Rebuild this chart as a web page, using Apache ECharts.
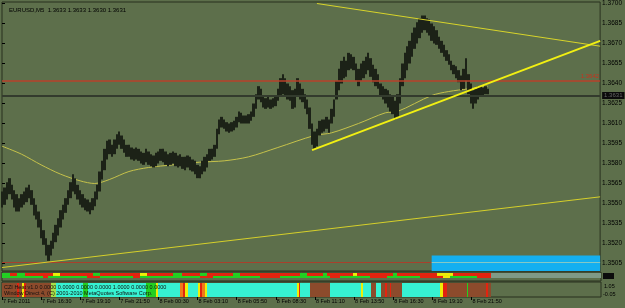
<!DOCTYPE html>
<html><head><meta charset="utf-8">
<script src="https://cdn.jsdelivr.net/npm/echarts@6/dist/echarts.min.js"></script>
<style>html,body{margin:0;padding:0;background:#5d6f4b;}#c{width:625px;height:308px;}</style>
</head><body><div id="c"></div>
<script>
// ---------- data ----------
const timeLabels = ['7 Feb 2011','7 Feb 16:30','7 Feb 19:10','7 Feb 21:50','8 Feb 00:30','8 Feb 03:10','8 Feb 05:50','8 Feb 08:30','8 Feb 11:10','8 Feb 13:50','8 Feb 16:30','8 Feb 19:10','8 Feb 21:50'];
const timeTickIdx = [0,16,32,48,64,80,96,112,128,144,160,176,192];
const priceTicks = [1.3505,1.3520,1.3535,1.3550,1.3565,1.3580,1.3595,1.3610,1.3625,1.3640,1.3655,1.3670,1.3685,1.3700];
const slotCount = 245; // 10-minute slots across the visible window

const barHigh = [1.3559,1.3562,1.3566,1.3569,1.3564,1.3560,1.3557,1.3554,1.3557,1.3559,
1.3562,1.3564,1.3560,1.3554,1.3549,1.3544,1.3538,1.3530,1.3524,1.3519,
1.3522,1.3528,1.3534,1.3539,1.3545,1.3549,1.3554,1.3560,1.3566,1.3572,
1.3569,1.3564,1.3560,1.3557,1.3554,1.3553,1.3551,1.3554,1.3559,1.3564,
1.3574,1.3582,1.3591,1.3597,1.3598,1.3594,1.3598,1.3602,1.3604,1.3601,
1.3598,1.3594,1.3594,1.3592,1.3591,1.3592,1.3591,1.3589,1.3588,1.3591,
1.3589,1.3587,1.3586,1.3588,1.3589,1.3591,1.3591,1.3589,1.3587,1.3588,
1.3589,1.3588,1.3586,1.3587,1.3585,1.3585,1.3586,1.3585,1.3583,1.3582,
1.3579,1.3578,1.3582,1.3585,1.3587,1.3591,1.3591,1.3594,1.3606,1.3613,
1.3615,1.3613,1.3611,1.3610,1.3611,1.3612,1.3615,1.3619,1.3618,1.3616,
1.3616,1.3617,1.3619,1.3625,1.3632,1.3638,1.3636,1.3631,1.3629,1.3630,
1.3628,1.3629,1.3631,1.3636,1.3644,1.3647,1.3644,1.3640,1.3638,1.3635,
1.3636,1.3644,1.3640,1.3636,1.3632,1.3628,1.3622,1.3610,1.3604,1.3606,
1.3612,1.3613,1.3613,1.3615,1.3613,1.3621,1.3628,1.3642,1.3651,1.3657,
1.3660,1.3657,1.3663,1.3662,1.3660,1.3655,1.3651,1.3655,1.3657,1.3660,
1.3663,1.3659,1.3654,1.3651,1.3647,1.3640,1.3638,1.3636,1.3635,1.3632,
1.3630,1.3627,1.3632,1.3644,1.3655,1.3663,1.3668,1.3672,1.3678,1.3682,
1.3686,1.3689,1.3691,1.3691,1.3689,1.3688,1.3685,1.3683,1.3680,1.3675,
1.3672,1.3669,1.3665,1.3662,1.3657,1.3654,1.3653,1.3650,1.3646,1.3651,
1.3659,1.3647,1.3640,1.3635,1.3636,1.3638,1.3638,1.3637,1.3638,1.3636];

const barLow = [1.3547,1.3549,1.3553,1.3557,1.3553,1.3547,1.3544,1.3544,1.3547,1.3549,
1.3551,1.3554,1.3549,1.3541,1.3538,1.3532,1.3524,1.3519,1.3511,1.3507,
1.3511,1.3516,1.3521,1.3526,1.3532,1.3538,1.3543,1.3549,1.3554,1.3559,
1.3557,1.3553,1.3549,1.3547,1.3545,1.3544,1.3542,1.3545,1.3548,1.3553,
1.3559,1.3568,1.3575,1.3583,1.3587,1.3585,1.3587,1.3591,1.3594,1.3591,
1.3588,1.3585,1.3585,1.3583,1.3582,1.3583,1.3582,1.3580,1.3579,1.3581,
1.3579,1.3578,1.3577,1.3578,1.3580,1.3582,1.3581,1.3579,1.3578,1.3579,
1.3580,1.3578,1.3577,1.3578,1.3576,1.3575,1.3577,1.3575,1.3574,1.3572,
1.3569,1.3569,1.3572,1.3574,1.3577,1.3582,1.3583,1.3585,1.3591,1.3602,
1.3607,1.3606,1.3604,1.3603,1.3604,1.3605,1.3607,1.3611,1.3610,1.3610,
1.3610,1.3610,1.3612,1.3615,1.3621,1.3628,1.3626,1.3622,1.3621,1.3622,
1.3621,1.3622,1.3623,1.3627,1.3630,1.3632,1.3630,1.3628,1.3627,1.3621,
1.3622,1.3630,1.3628,1.3626,1.3621,1.3617,1.3606,1.3594,1.3591,1.3593,
1.3601,1.3603,1.3604,1.3606,1.3603,1.3610,1.3615,1.3628,1.3635,1.3640,
1.3644,1.3645,1.3650,1.3651,1.3650,1.3642,1.3638,1.3642,1.3644,1.3647,
1.3650,1.3645,1.3641,1.3638,1.3636,1.3630,1.3628,1.3625,1.3622,1.3619,
1.3617,1.3613,1.3615,1.3625,1.3638,1.3644,1.3650,1.3655,1.3660,1.3666,
1.3670,1.3674,1.3678,1.3680,1.3678,1.3676,1.3672,1.3670,1.3669,1.3666,
1.3663,1.3660,1.3657,1.3654,1.3650,1.3647,1.3644,1.3641,1.3635,1.3636,
1.3642,1.3632,1.3625,1.3621,1.3625,1.3628,1.3630,1.3631,1.3632,1.3632];

const maIdx = [0,8,16,24,32,38,44,52,60,70,81,91,101,113,128,135,146,157,162,176,183,191,199];
const maVal = [1.3593,1.3587,1.3579,1.3572,1.3567,1.3565,1.3568,1.3574,1.3577,1.3579,1.3581,1.3582,1.3585,1.3592,1.3601,1.3603,1.3610,1.3618,1.3619,1.3631,1.3634,1.3636,1.3638];

const trendSupport = [[127,1.3590],[245,1.3672]];
const trendUpper = [[129,1.3700],[245,1.3668]];
const trendLower = [[0,1.3502],[245,1.3555]];

const levelRed = 1.3642;
const levelBid = 1.3631;
const levelLow = 1.3506;
const boxStart = 176, boxTop = 1.3511;

const legendText = 'EURUSD,M5  1.3633 1.3633 1.3630 1.3631';
const heatText1 = 'CZI Heat v1.0 0.0000 0.0000 0.0000 0.0000 1.0000 0.0000 0.0000';
const heatText2 = 'Window Direct 4, (C) 2001-2010 MetaQuotes Software Corp.';

// run-length heat cells: [startSlot, endSlot, state]
const heatUpperTop = [[0,3.3,'G'],[3.3,6.1,'R'],[6.1,9.4,'G'],[9.4,20.9,'R'],[20.9,23.7,'Y'],[23.7,37.2,'R'],[37.2,40.1,'G'],[40.1,56.4,'R'],[56.4,59.3,'Y'],[59.3,70,'R'],[70,73.6,'G'],[73.6,81,'R'],[81,83.8,'G'],[83.8,94.5,'R'],[94.5,97.3,'G'],[97.3,121.9,'R'],[121.9,124.7,'G'],[124.7,131.3,'R'],[131.3,133,'G'],[133,143.6,'R'],[143.6,145.2,'Y'],[145.2,160,'R'],[160,161.6,'G'],[161.6,177.9,'R'],[177.9,184.5,'Y'],[184.5,200,'R'],[200,245,'S']];
const heatUpperBottom = [[0,16.8,'G'],[16.8,18.8,'R'],[18.8,34.8,'G'],[34.8,40.1,'R'],[40.1,53.6,'G'],[53.6,56.4,'R'],[56.4,81,'G'],[81,86.3,'R'],[86.3,105.5,'G'],[105.5,113.7,'R'],[113.7,134.2,'G'],[134.2,138.2,'R'],[138.2,150.5,'G'],[150.5,157.5,'R'],[157.5,171,'G'],[171,180.4,'R'],[180.4,183.2,'Y'],[183.2,194.2,'G'],[194.2,200,'R'],[200,245,'S']];
const heatLower = [[0,6,'B'],[6,7,'R'],[7,8,'B'],[8,9,'Y'],[9,10,'R'],[10,20,'B'],[20,22,'L'],[22,33,'C'],[33,35,'G'],[35,59,'C'],[59,63,'G'],[63,64,'Y'],[64,73,'C'],[73,74,'O'],[74,75,'R'],[75,76,'Y'],[76,80,'C'],[80,81,'Y'],[81,82,'R'],[82,83,'O'],[83,84,'Y'],[84,120.5,'C'],[120.5,121.3,'Y'],[121.3,122,'R'],[122,126,'C'],[126,134,'B'],[134,147,'C'],[147,147.6,'Y'],[147.6,151,'C'],[151,153,'B'],[153,155,'C'],[155,156.5,'B'],[156.5,157.3,'R'],[157.3,158.5,'B'],[158.5,159.3,'R'],[159.3,163.5,'B'],[163.5,179,'C'],[179,180.5,'Y'],[180.5,182,'R'],[182,190,'B'],[190,190.6,'G'],[190.6,198,'B'],[198,198.8,'R'],[198.8,200,'B']];

// ---------- styles ----------
const palette = {R:'#e3240f', G:'#22d022', Y:'#eeee08', S:'#7f9a86', B:'#8c4b2c', C:'#36f2d2', L:'#a8e04a', O:'#f07a1a'};
const frame = '#29311f';
const bg = '#5d6f4b';
const yMin = 1.349938, yMax = 1.370113;
const font = 'Liberation Sans, Arial, sans-serif';

function heatSeries(segs, axisIdx, v0, v1) {
  return {
    type: 'custom', xAxisIndex: axisIdx, yAxisIndex: axisIdx, silent: true,
    data: segs.map(s => [s[0], s[1]]),
    encode: {x: [0, 1]},
    renderItem: (params, api) => {
      const seg = segs[params.dataIndex];
      const a = api.coord([seg[0], v1]);
      const b = api.coord([seg[1], v0]);
      const x0 = Math.round(a[0]), x1 = Math.round(b[0]);
      return {type: 'rect', shape: {x: x0, y: a[1], width: Math.max(1, x1 - x0), height: b[1] - a[1]}, style: {fill: palette[seg[2]]}};
    }
  };
}
function hLine(v, from, to, lineStyle, label) {
  const start = {xAxis: from, yAxis: v, lineStyle: lineStyle};
  if (label) start.label = label;
  return [start, {xAxis: to, yAxis: v}];
}

const chart = echarts.init(document.getElementById('c'), null, {renderer: 'canvas'});
const hiddenX = (g) => ({type: 'value', gridIndex: g, min: 0, max: slotCount, show: false});
const hiddenY = (g) => ({type: 'value', gridIndex: g, min: 0, max: 1, show: false});

chart.setOption({
  animation: false,
  backgroundColor: bg,
  textStyle: {fontFamily: font},
  title: {text: legendText, left: 4, top: 2, textStyle: {fontSize: 6, fontWeight: 'normal', color: '#000', fontFamily: font}},
  grid: [
    {left: 2, top: 2, width: 599, height: 269, show: true, borderColor: frame, borderWidth: 1, backgroundColor: 'transparent'},
    {left: 2, top: 272, width: 599, height: 9, show: true, borderColor: frame, borderWidth: 1, backgroundColor: 'transparent'},
    {left: 2, top: 282, width: 599, height: 15, show: true, borderColor: frame, borderWidth: 1, backgroundColor: 'transparent'}
  ],
  xAxis: [
    hiddenX(0), hiddenX(1),
    {type: 'value', gridIndex: 2, min: 0, max: slotCount,
     axisLine: {show: false}, splitLine: {show: false},
     axisTick: {show: true, customValues: timeTickIdx, length: 3, lineStyle: {color: '#000'}},
     axisLabel: {show: true, customValues: timeTickIdx, formatter: v => timeLabels[Math.round(v / 16)],
       align: 'left', fontSize: 5.5, color: '#000', margin: 1, padding: [0, 0, 0, 1], fontFamily: font}}
  ],
  yAxis: [
    {type: 'value', gridIndex: 0, position: 'right', min: yMin, max: yMax, scale: true,
     axisLine: {show: false}, splitLine: {show: false},
     axisTick: {show: true, customValues: priceTicks, length: 3, lineStyle: {color: '#000'}},
     axisLabel: {show: true, customValues: priceTicks, formatter: v => v.toFixed(4), fontSize: 6.5, color: '#000', margin: 2, fontFamily: font}},
    hiddenY(1), hiddenY(2)
  ],
  graphic: [
    {type: 'rect', shape: {x: 603, y: 273, width: 11, height: 6}, style: {fill: '#0c0c0c'}},
    {type: 'text', left: 604, top: 283, style: {text: '1.05', fill: '#000', font: '5.5px ' + font}},
    {type: 'text', left: 603, top: 291, style: {text: '-0.05', fill: '#000', font: '5.5px ' + font}},
    {type: 'text', left: 4, top: 284, z: 50, style: {text: heatText1, fill: '#111', font: '5.5px ' + font}},
    {type: 'text', left: 4, top: 290, z: 50, style: {text: heatText2, fill: '#111', font: '5.5px ' + font}}
  ],
  series: [
    // box object near the bottom
    {type: 'line', xAxisIndex: 0, yAxisIndex: 0, data: [], silent: true, z: 1,
     markArea: {silent: true, itemStyle: {color: '#14aff0', opacity: 1},
       data: [[{xAxis: boxStart, yAxis: boxTop}, {xAxis: slotCount, yAxis: yMin}]]}},
    {type: 'line', xAxisIndex: 0, yAxisIndex: 0, data: [], silent: true, z: 2,
     markLine: {silent: true, symbol: 'none', animation: false,
       data: [
         hLine(levelLow, 0, boxStart, {color: '#a8402c', width: 1, type: 'solid'}),
         hLine(levelLow, boxStart, slotCount, {color: '#86c8c4', width: 1, type: 'solid'}),
         hLine(levelRed, 0, slotCount, {color: '#b8402a', width: 1.5, type: 'solid'},
           {show: true, position: 'insideEndTop', formatter: levelRed.toFixed(4), color: '#c8321e', fontSize: 6, distance: 1, fontFamily: font}),
         hLine(levelBid, 0, slotCount, {color: '#333b2d', width: 2, type: 'solid'},
           {show: true, position: 'end', formatter: levelBid.toFixed(4), color: '#666', backgroundColor: '#0b0b0b', fontSize: 6, padding: [1, 2, 0, 2], distance: 2, fontFamily: font})
       ]}},
    // moving average
    {type: 'line', xAxisIndex: 0, yAxisIndex: 0, silent: true, z: 3, smooth: 0.3, showSymbol: false,
     data: maIdx.map((k, i) => [k, maVal[i]]), lineStyle: {color: '#c6c24a', width: 1}},
    // price bars
    {type: 'custom', xAxisIndex: 0, yAxisIndex: 0, silent: true, z: 4,
     data: barHigh.map((h, i) => [i, h, barLow[i]]),
     encode: {x: 0, y: [1, 2]},
     renderItem: (params, api) => {
       const i = api.value(0);
       const a = api.coord([i - 0.5, api.value(1)]);
       const b = api.coord([i + 0.5, api.value(2)]);
       const x0 = Math.round(a[0]), x1 = Math.round(b[0]);
       return {type: 'rect', shape: {x: x0, y: a[1], width: Math.max(1, x1 - x0), height: Math.max(1, b[1] - a[1])}, style: {fill: '#1c2217'}};
     }},
    // trend lines
    {type: 'line', xAxisIndex: 0, yAxisIndex: 0, silent: true, z: 5, showSymbol: false, data: trendLower, lineStyle: {color: '#d6d02a', width: 1}},
    {type: 'line', xAxisIndex: 0, yAxisIndex: 0, silent: true, z: 5, showSymbol: false, data: trendUpper, lineStyle: {color: '#d8d42a', width: 1}},
    {type: 'line', xAxisIndex: 0, yAxisIndex: 0, silent: true, z: 6, showSymbol: false, data: trendSupport, lineStyle: {color: '#f2f012', width: 2}},
    // indicator strips
    heatSeries(heatUpperTop, 1, 0.56, 0.89),
    heatSeries(heatUpperBottom, 1, 0.33, 0.56),
    heatSeries(heatLower, 2, 0, 0.94)
  ]
});
</script>
</body></html>
